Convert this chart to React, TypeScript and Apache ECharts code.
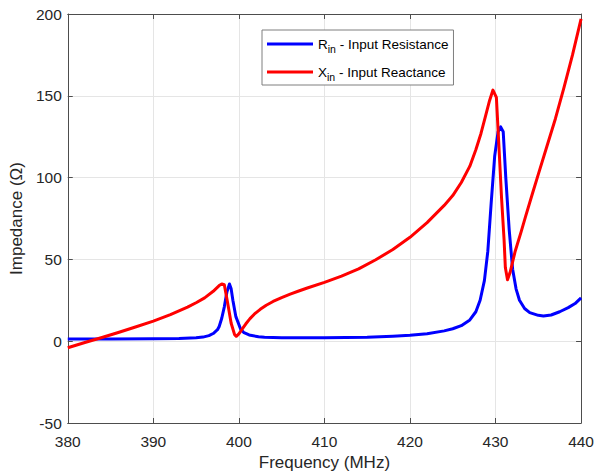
import React, { useEffect, useRef } from "react";
import * as echarts from "echarts";

const xTicks = [380, 390, 400, 410, 420, 430, 440];
const yTicks = [-50, 0, 50, 100, 150, 200];

const freqR = [380, 385, 390, 393, 395, 395.8, 396.5, 397, 397.5, 397.7, 398.0, 398.3, 398.6, 398.9, 399.1, 399.3, 399.65, 400.2, 400.6, 401.2, 402.3, 403, 405, 410, 415, 418, 420, 422, 424, 425, 426, 427, 427.7, 428.2, 428.7, 429.1, 429.5, 429.9, 430.3, 430.6, 430.9, 431.2, 431.6, 432.0, 432.4, 432.8, 433.4, 434, 435, 435.6, 436.5, 437.5, 438.5, 439.3, 440];
const valuesR = [1.3, 1.4, 1.5, 1.7, 2.1, 2.5, 3.4, 4.7, 7, 9, 14, 21, 30, 35, 32, 25, 15, 7.5, 5.2, 3.8, 2.7, 2.4, 2.1, 2.1, 2.4, 3, 3.6, 4.6, 6.3, 7.6, 9.5, 13, 18, 25, 37, 55, 85, 113, 128, 131, 128, 100, 68, 44, 32, 25, 20, 17.5, 15.8, 15.4, 16, 18, 20.5, 23, 26.5];

const freqX = [380, 382, 384, 386, 388, 390, 392, 394, 395, 396, 397, 397.7, 398.0, 398.3, 398.7, 399.1, 399.5, 399.7, 400, 400.4, 400.8, 401.3, 401.8, 402.5, 403.2, 404, 405, 406, 407, 408, 410, 412, 414, 416, 418, 420, 422, 424, 425, 426, 427, 427.7, 428.3, 428.8, 429.3, 429.7, 430.1, 430.4, 430.7, 431.0, 431.15, 431.4, 431.7, 432.3, 433, 433.5, 434.3, 435, 436, 437, 438, 439, 440];
const valuesX = [-4, -0.8, 2.3, 5.5, 8.8, 12.3, 16.2, 20.8, 23.5, 26.5, 30.5, 34, 35, 34.5, 23, 11, 4, 3, 4.5, 7.5, 10.5, 13.8, 16.5, 19.5, 22, 24.3, 26.7, 28.8, 30.7, 32.5, 36, 39.8, 44.2, 49.8, 56, 63.5, 72.5, 83, 89, 97, 107, 117, 127, 137, 147, 153.5, 149, 119, 88, 62, 45, 37.5, 42, 55, 67, 76, 90, 102, 119, 136, 155, 175, 197];

const nameR = "Rin - Input Resistance";
const nameX = "Xin - Input Reactance";

export default function App() {
  const ref = useRef<HTMLDivElement>(null);
  useEffect(() => {
    if (!ref.current) return;
    const chart = echarts.init(ref.current, null, { renderer: "svg" });
    const font = "'Liberation Sans', Arial, Helvetica, sans-serif";
    const axisColor = "#4d4d4d";
    const labelColor = "#262626";
    chart.setOption({
      animation: false,
      textStyle: { fontFamily: font },
      grid: { left: 63, right: 14, top: 14, bottom: 53, containLabel: false },
      legend: {
        data: [nameR, nameX],
        orient: "vertical",
        left: 262,
        top: 30,
        backgroundColor: "#ffffff",
        borderColor: "#7f7f7f",
        borderWidth: 1,
        padding: [3, 5, 3, 5],
        itemGap: 7,
        itemWidth: 46,
        itemHeight: 3,
        icon: "rect",
        formatter: (name: string) => {
          const sym = name.charAt(0);
          const rest = name.slice(3);
          return "{m|" + sym + "}{s|in}{m|" + rest + "}";
        },
        textStyle: {
          color: "#000000",
          fontFamily: font,
          rich: {
            m: { fontSize: 13.5, color: "#000", fontFamily: font, lineHeight: 20, verticalAlign: "middle" },
            s: { fontSize: 10.5, color: "#000", fontFamily: font, lineHeight: 20, verticalAlign: "bottom", padding: [10, 0, 0, 0] },
          },
        },
      },
      xAxis: [
        {
          type: "value",
          min: 380,
          max: 440,
          interval: 10,
          name: "Frequency (MHz)",
          nameLocation: "middle",
          nameGap: 30,
          nameTextStyle: { fontSize: 17, color: labelColor, fontFamily: font },
          axisLine: { show: true, onZero: false, lineStyle: { color: axisColor, width: 1 } },
          axisTick: { show: true, inside: true, length: 5, lineStyle: { color: axisColor } },
          axisLabel: {
            fontSize: 15.5,
            color: labelColor,
            margin: 10,
            fontFamily: font,
            formatter: (v: number) => (xTicks.includes(v) ? String(v) : ""),
          },
          splitLine: { show: true, lineStyle: { color: "#e5e5e5", width: 1 } },
        },
        {
          type: "value",
          position: "top",
          min: 380,
          max: 440,
          interval: 10,
          axisLine: { show: true, onZero: false, lineStyle: { color: axisColor, width: 1 } },
          axisTick: { show: true, inside: true, length: 5, lineStyle: { color: axisColor } },
          axisLabel: { show: false },
          splitLine: { show: false },
        },
      ],
      yAxis: [
        {
          type: "value",
          min: -50,
          max: 200,
          interval: 50,
          name: "Impedance (Ω)",
          nameLocation: "middle",
          nameGap: 35,
          nameTextStyle: { fontSize: 17, color: labelColor, fontFamily: font },
          axisLine: { show: true, onZero: false, lineStyle: { color: axisColor, width: 1 } },
          axisTick: { show: true, inside: true, length: 5, lineStyle: { color: axisColor } },
          axisLabel: {
            fontSize: 15.5,
            color: labelColor,
            margin: 6,
            fontFamily: font,
            formatter: (v: number) => (yTicks.includes(v) ? String(v) : ""),
          },
          splitLine: { show: true, lineStyle: { color: "#e5e5e5", width: 1 } },
        },
        {
          type: "value",
          position: "right",
          min: -50,
          max: 200,
          interval: 50,
          axisLine: { show: true, onZero: false, lineStyle: { color: axisColor, width: 1 } },
          axisTick: { show: true, inside: true, length: 5, lineStyle: { color: axisColor } },
          axisLabel: { show: false },
          splitLine: { show: false },
        },
      ],
      series: [
        {
          name: nameR,
          type: "line",
          data: freqR.map((f, i) => [f, valuesR[i]]),
          showSymbol: false,
          symbol: "none",
          smooth: false,
          itemStyle: { color: "#0000ff" },
          lineStyle: { color: "#0000ff", width: 3, join: "round" },
          z: 3,
        },
        {
          name: nameX,
          type: "line",
          data: freqX.map((f, i) => [f, valuesX[i]]),
          showSymbol: false,
          symbol: "none",
          smooth: false,
          itemStyle: { color: "#ff0000" },
          lineStyle: { color: "#ff0000", width: 3, join: "round" },
          z: 4,
        },
      ],
    });
    return () => chart.dispose();
  }, []);
  return <div ref={ref} style={{ width: 597, height: 476, position: "absolute", left: 0, top: 0 }} />;
}
